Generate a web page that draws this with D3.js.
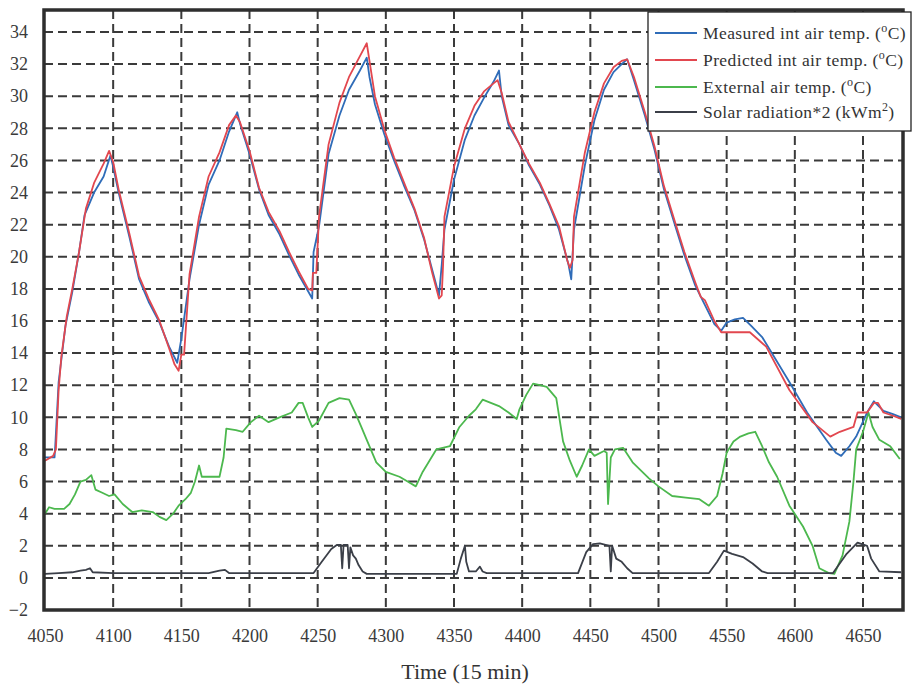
<!DOCTYPE html>
<html><head><meta charset="utf-8">
<script src="https://cdn.jsdelivr.net/npm/d3@7/dist/d3.min.js"></script>
<style>html,body{margin:0;padding:0;background:#fff}svg{display:block}</style>
</head><body>
<svg id="chart" width="912" height="689"></svg>
<script>
// ---------- data ----------
const xTicks = [4050,4100,4150,4200,4250,4300,4350,4400,4450,4500,4550,4600,4650];
const yTicks = [-2,0,2,4,6,8,10,12,14,16,18,20,22,24,26,28,30,32,34];
const xLabel = "Time (15 min)";
const seriesNames = ["Measured int air temp. (", "Predicted int air temp. (", "External air temp. (", "Solar radiation*2 (kWm"];
const seriesSup = ["o","o","o","2"];
const seriesTail = ["C)","C)","C)",")"];

const measured = [[4050,7.5],[4057,7.5],[4057.5,8.2],[4060,12.2],[4065,15.7],[4070,17.8],[4075,20.3],[4079,22.6],[4086,24.0],[4093,25.0],[4098,26.3],[4100,25.6],[4104,24.0],[4112,21.2],[4119,18.6],[4126,17.2],[4134,15.9],[4141,14.4],[4147,13.4],[4150,14.9],[4156,18.6],[4163,22.0],[4170,24.5],[4178,26.0],[4185,27.8],[4191,29.0],[4193,28.3],[4200,26.4],[4207,24.2],[4214,22.6],[4222,21.4],[4229,20.1],[4236,18.9],[4246,17.4],[4247,20.3],[4251,21.9],[4258,26.4],[4266,28.8],[4273,30.4],[4281,31.6],[4286,32.4],[4288,31.2],[4292,29.5],[4299,27.6],[4306,26.0],[4313,24.5],[4321,22.9],[4328,21.1],[4334,19.2],[4339,17.6],[4341,19.5],[4343,21.7],[4350,24.8],[4358,27.3],[4365,28.8],[4372,29.9],[4379,30.9],[4383,31.6],[4385,30.0],[4390,28.2],[4398,27.0],[4405,25.7],[4413,24.5],[4420,23.2],[4427,21.7],[4434,19.5],[4436,18.6],[4438,21.7],[4446,25.7],[4453,28.5],[4460,30.4],[4467,31.5],[4473,32.0],[4477,32.3],[4482,31.0],[4490,28.8],[4497,26.7],[4504,24.2],[4512,22.0],[4519,20.1],[4527,18.2],[4534,17.0],[4541,15.8],[4546,15.4],[4550,15.9],[4556,16.1],[4562,16.2],[4568,15.7],[4576,15.0],[4586,13.6],[4596,12.2],[4609,10.3],[4623,8.6],[4630,7.8],[4634,7.6],[4640,8.2],[4645,8.8],[4653,10.3],[4658,11.0],[4665,10.4],[4672,10.2],[4678,10.0]];

const predicted = [[4050,7.3],[4056,7.6],[4058,8.0],[4060,11.7],[4062,13.8],[4066,16.3],[4070,18.0],[4075,20.3],[4080,23.0],[4086,24.6],[4093,25.8],[4097,26.6],[4100,25.9],[4104,24.2],[4112,21.4],[4119,18.8],[4126,17.4],[4134,16.0],[4141,14.3],[4145,13.3],[4148,12.9],[4150,13.9],[4152,13.9],[4156,18.9],[4163,22.5],[4170,25.0],[4178,26.5],[4185,28.2],[4190,28.8],[4193,28.4],[4200,26.6],[4207,24.3],[4214,22.8],[4222,21.6],[4229,20.3],[4236,19.1],[4243,18.0],[4246,17.9],[4246.5,19.0],[4249,19.0],[4251,22.5],[4258,27.0],[4266,29.6],[4273,31.2],[4281,32.5],[4286,33.3],[4288,32.2],[4292,30.0],[4299,27.9],[4306,26.2],[4313,24.7],[4321,23.0],[4328,21.2],[4334,19.0],[4339,17.4],[4341,17.6],[4342,19.5],[4343,22.5],[4350,25.6],[4358,28.0],[4365,29.4],[4372,30.3],[4379,30.8],[4382,31.0],[4385,30.2],[4390,28.4],[4398,27.0],[4405,25.8],[4413,24.6],[4420,23.3],[4427,21.9],[4433,19.8],[4435,19.3],[4437,19.8],[4438,22.5],[4446,26.5],[4453,29.0],[4460,30.8],[4467,31.8],[4473,32.2],[4477,32.3],[4482,31.2],[4490,29.0],[4497,26.9],[4504,24.4],[4512,22.2],[4519,20.3],[4527,18.4],[4531,17.5],[4534,17.3],[4541,16.0],[4546,15.3],[4567,15.3],[4579,14.4],[4596,11.7],[4613,9.7],[4626,8.8],[4633,9.1],[4643,9.4],[4646,10.3],[4653,10.3],[4658,10.9],[4661,10.9],[4665,10.3],[4672,10.1],[4678,9.9]];

const external = [[4050,4.0],[4053,4.4],[4057,4.3],[4064,4.3],[4068,4.6],[4072,5.2],[4076,6.0],[4080,6.1],[4084,6.4],[4087,5.5],[4092,5.3],[4097,5.1],[4101,5.2],[4107,4.6],[4114,4.1],[4121,4.2],[4129,4.1],[4134,3.8],[4139,3.6],[4144,4.0],[4148,4.5],[4153,4.9],[4157,5.3],[4160,6.0],[4163,7.0],[4165,6.3],[4172,6.3],[4178,6.3],[4181,7.5],[4183,9.3],[4190,9.2],[4195,9.1],[4201,9.7],[4207,10.1],[4214,9.7],[4222,10.0],[4231,10.3],[4236,10.9],[4239,10.9],[4243,10.0],[4246,9.4],[4251,9.8],[4258,10.9],[4266,11.2],[4273,11.1],[4278,10.2],[4282,9.4],[4286,8.6],[4293,7.2],[4300,6.6],[4310,6.3],[4316,6.0],[4322,5.7],[4327,6.6],[4332,7.3],[4337,8.0],[4347,8.2],[4354,9.4],[4361,10.1],[4366,10.5],[4371,11.1],[4377,10.9],[4383,10.7],[4390,10.3],[4396,9.9],[4398,10.5],[4403,11.4],[4408,12.1],[4413,12.0],[4418,11.9],[4425,11.2],[4430,8.5],[4435,7.3],[4440,6.3],[4444,7.0],[4449,8.0],[4453,7.6],[4460,7.9],[4462,7.8],[4463,4.6],[4465,7.5],[4468,8.0],[4474,8.1],[4481,7.2],[4487,6.7],[4493,6.2],[4500,5.7],[4510,5.1],[4520,5.0],[4530,4.9],[4537,4.5],[4543,5.1],[4547,6.5],[4550,7.8],[4555,8.5],[4560,8.8],[4566,9.0],[4571,9.1],[4576,8.2],[4581,7.2],[4587,6.3],[4596,4.5],[4606,3.2],[4613,2.0],[4618,0.6],[4625,0.3],[4629,0.25],[4635,1.4],[4640,3.5],[4643,6.0],[4645,8.0],[4650,9.1],[4654,10.3],[4657,9.4],[4662,8.6],[4670,8.2],[4677,7.4]];

const solar = [[4050,0.25],[4060,0.3],[4070,0.35],[4076,0.45],[4080,0.5],[4083,0.6],[4085,0.35],[4100,0.3],[4170,0.3],[4178,0.45],[4182,0.5],[4185,0.3],[4247,0.3],[4253,1.0],[4260,1.8],[4264,2.05],[4267,2.05],[4268,0.6],[4269,2.05],[4272,2.05],[4273,0.6],[4274,1.9],[4276,1.4],[4278,1.2],[4280,0.8],[4283,0.4],[4286,0.25],[4352,0.25],[4355,1.2],[4358,2.0],[4359,1.0],[4361,0.4],[4366,0.4],[4369,0.7],[4371,0.4],[4374,0.3],[4441,0.3],[4447,1.6],[4452,2.1],[4457,2.15],[4464,2.0],[4465,0.4],[4466,2.0],[4469,1.2],[4473,1.0],[4477,0.6],[4481,0.3],[4537,0.3],[4543,1.0],[4548,1.7],[4554,1.5],[4562,1.3],[4569,0.9],[4576,0.4],[4580,0.3],[4628,0.3],[4638,1.5],[4646,2.2],[4653,2.0],[4656,1.2],[4662,0.4],[4678,0.35]];

const seriesColors = ["#2f6cb8","#e2474f","#4cb84e","#3b3f48"];
const allSeries = [measured, predicted, external, solar];

// ---------- layout ----------
const svg = d3.select("#chart");
const font = "'Liberation Serif','Times New Roman',serif";
const frame = {left:44, right:903, top:10, bottom:610};
const x = d3.scaleLinear().domain([4050,4650]).range([45,863]);
const y = d3.scaleLinear().domain([-2,34]).range([610,32]);

// gridlines
const grid = svg.append("g").attr("stroke","#3a3a3a").attr("stroke-width",2).attr("stroke-dasharray","9,5");
grid.selectAll("line.h").data(yTicks.filter(d=>d>-2)).join("line")
  .attr("x1",frame.left).attr("x2",frame.right).attr("y1",d=>y(d)).attr("y2",d=>y(d));
grid.selectAll("line.v").data(xTicks.filter(d=>d>4050)).join("line")
  .attr("y1",frame.top).attr("y2",frame.bottom).attr("x1",d=>x(d)).attr("x2",d=>x(d));

// axes (labels only, via d3 axes)
const yAxis = svg.append("g").attr("transform",`translate(${frame.left},0)`)
  .call(d3.axisLeft(y).tickValues(yTicks).tickSize(0).tickPadding(16).tickFormat(d3.format("d")));
const xAxis = svg.append("g").attr("transform",`translate(0,${frame.bottom})`)
  .call(d3.axisBottom(x).tickValues(xTicks).tickSize(0).tickPadding(19).tickFormat(d3.format("d")));
[yAxis,xAxis].forEach(a=>{
  a.select(".domain").remove();
  a.selectAll("text").attr("font-family",font).attr("font-size",18).attr("fill","#3a3a3a");
});

// series lines
const line = d3.line().x(d=>x(d[0])).y(d=>y(d[1]));
const order = [2,3,0,1];
order.forEach(i=>{
  svg.append("path").datum(allSeries[i]).attr("d",line)
    .attr("fill","none").attr("stroke",seriesColors[i]).attr("stroke-width",1.8)
    .attr("stroke-linejoin","round");
});

// frame
svg.append("rect").attr("x",frame.left).attr("y",frame.top)
  .attr("width",frame.right-frame.left).attr("height",frame.bottom-frame.top)
  .attr("fill","none").attr("stroke","#2e2e2e").attr("stroke-width",3.5);

// x axis title
svg.append("text").attr("x",465).attr("y",679).attr("text-anchor","middle")
  .attr("font-family",font).attr("font-size",22).attr("fill","#333").text(xLabel);

// legend
const lg = svg.append("g");
lg.append("rect").attr("x",648).attr("y",12).attr("width",263).attr("height",119)
  .attr("fill","#fff").attr("stroke","#222").attr("stroke-width",1.3);
const rowsY = [33,60,87,112];
seriesNames.forEach((n,i)=>{
  lg.append("line").attr("x1",655).attr("x2",697).attr("y1",rowsY[i]).attr("y2",rowsY[i])
    .attr("stroke",seriesColors[i]).attr("stroke-width",2);
  const t = lg.append("text").attr("x",703).attr("y",rowsY[i]+6)
    .attr("font-family",font).attr("font-size",17.5).attr("letter-spacing",0.4).attr("fill","#333");
  t.append("tspan").text(n);
  t.append("tspan").attr("dy",-7).attr("font-size",12).text(seriesSup[i]);
  t.append("tspan").attr("dy",7).text(seriesTail[i]);
});
</script>
</body></html>
